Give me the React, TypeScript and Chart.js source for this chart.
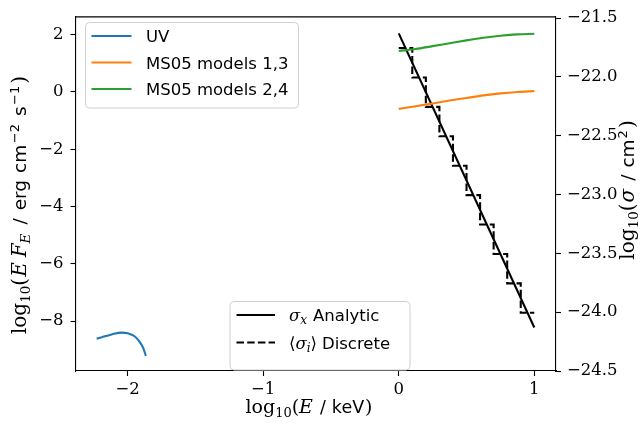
import React, { useEffect, useRef } from 'react';
import { Chart, registerables } from 'chart.js';

Chart.register(...registerables);

// ---------------- data ----------------
const uvLogE = [-2.228, -2.19, -2.15, -2.1, -2.044, -2.0, -1.959, -1.93, -1.91, -1.885, -1.865];
const uvFlux = [-8.61, -8.56, -8.51, -8.44, -8.4, -8.42, -8.5, -8.61, -8.73, -8.93, -9.21];

const msLogE = [0, 0.125, 0.25, 0.375, 0.5, 0.625, 0.75, 0.875, 1.0];
const ms13Flux = [-0.59, -0.5, -0.4, -0.3, -0.21, -0.12, -0.05, 0.0, 0.03];
const ms24Flux = [1.43, 1.5, 1.6, 1.7, 1.8, 1.89, 1.96, 2.01, 2.03];

const sigmaLogE = [0, 1];
const sigmaAnalytic = [-21.63, -24.13];

const binEdges = [0, 0.1, 0.2, 0.3, 0.4, 0.5, 0.6, 0.7, 0.8, 0.9, 1.0];
const sigmaDiscrete = [-21.755, -22.005, -22.255, -22.505, -22.755, -23.005, -23.255, -23.505, -23.755, -24.005, -24.005];

const xTicks = [-2, -1, 0, 1];
const yLeftTicks = [-8, -6, -4, -2, 0, 2];
const yRightTicks = [-24.5, -24.0, -23.5, -23.0, -22.5, -22.0, -21.5];

const seriesLabels = ['UV', 'MS05 models 1,3', 'MS05 models 2,4', 'σx Analytic', '⟨σi⟩ Discrete'];
const seriesColors = ['#1f77b4', '#ff7f0e', '#2ca02c', '#000000', '#000000'];

// ---------------- helpers ----------------
type Seg = { t: string; f: string; dy?: number; gap?: number };

const serif = (px: number, italic = false) => `${italic ? 'italic ' : ''}${px}px "DejaVu Serif"`;
const sans = (px: number) => `${px}px "DejaVu Sans"`;

function richWidth(ctx: CanvasRenderingContext2D, segs: Seg[]) {
  let w = 0;
  for (const s of segs) {
    ctx.font = s.f;
    w += (s.gap || 0) + ctx.measureText(s.t).width;
  }
  return w;
}

function drawRich(
  ctx: CanvasRenderingContext2D,
  segs: Seg[],
  x: number,
  y: number,
  align: 'left' | 'center',
  rot = 0,
  color = '#000'
) {
  ctx.save();
  ctx.translate(x, y);
  ctx.rotate(rot);
  ctx.textBaseline = 'alphabetic';
  ctx.textAlign = 'left';
  ctx.fillStyle = color;
  let cx = align === 'center' ? -richWidth(ctx, segs) / 2 : 0;
  for (const s of segs) {
    cx += s.gap || 0;
    ctx.font = s.f;
    ctx.fillText(s.t, cx, s.dy || 0);
    cx += ctx.measureText(s.t).width;
  }
  ctx.restore();
}

function roundRect(ctx: CanvasRenderingContext2D, x: number, y: number, w: number, h: number, r: number) {
  ctx.beginPath();
  ctx.moveTo(x + r, y);
  ctx.lineTo(x + w - r, y);
  ctx.quadraticCurveTo(x + w, y, x + w, y + r);
  ctx.lineTo(x + w, y + h - r);
  ctx.quadraticCurveTo(x + w, y + h, x + w - r, y + h);
  ctx.lineTo(x + r, y + h);
  ctx.quadraticCurveTo(x, y + h, x, y + h - r);
  ctx.lineTo(x, y + r);
  ctx.quadraticCurveTo(x, y, x + r, y);
  ctx.closePath();
}

const minus = (v: number, digits = 0) => {
  const s = Math.abs(v).toFixed(digits);
  return v < 0 ? '\u2212' + s : s;
};

const xTitle: Seg[] = [
  { t: 'log', f: serif(19) },
  { t: '10', f: serif(13), dy: 4 },
  { t: '(', f: serif(19) },
  { t: 'E', f: serif(19, true) },
  { t: '/', f: sans(17.5), gap: 7 },
  { t: 'keV', f: sans(17.5), gap: 6 },
  { t: ')', f: serif(19), gap: 1 },
];

const yTitle: Seg[] = [
  { t: 'log', f: serif(20) },
  { t: '10', f: serif(13.5), dy: 4 },
  { t: '(', f: serif(20) },
  { t: 'E', f: serif(20, true), gap: 1 },
  { t: 'F', f: serif(20, true), gap: 5 },
  { t: 'E', f: serif(13.5, true), dy: 4 },
  { t: '/', f: sans(18.5), gap: 9 },
  { t: 'erg', f: sans(18.5), gap: 8 },
  { t: 'cm', f: sans(18.5), gap: 7 },
  { t: '\u22122', f: sans(13), dy: -7.5, gap: 1.5 },
  { t: 's', f: sans(18.5), gap: 8 },
  { t: '\u22121', f: sans(13), dy: -7.5, gap: 1.5 },
  { t: ')', f: serif(20), gap: 2 },
];

const y2Title: Seg[] = [
  { t: 'log', f: serif(20) },
  { t: '10', f: serif(13.5), dy: 4 },
  { t: '(', f: serif(20) },
  { t: 'σ', f: serif(20, true), gap: 1 },
  { t: '/', f: sans(18.5), gap: 8 },
  { t: 'cm', f: sans(18.5), gap: 7 },
  { t: '2', f: sans(13), dy: -7.5, gap: 1 },
  { t: ')', f: serif(20), gap: 2 },
];

const legend2Text: Seg[][] = [
  [
    { t: 'σ', f: serif(16.5, true) },
    { t: 'x', f: serif(12, true), dy: 3 },
    { t: 'Analytic', f: sans(16.5), gap: 6 },
  ],
  [
    { t: '⟨', f: serif(16.5) },
    { t: 'σ', f: serif(16.5, true) },
    { t: 'i', f: serif(12, true), dy: 3 },
    { t: '⟩', f: serif(16.5) },
    { t: 'Discrete', f: sans(16.5), gap: 5 },
  ],
];

const overlayPlugin = {
  id: 'overlay',
  afterDatasetsDraw(chart: any) {
    const ctx: CanvasRenderingContext2D = chart.ctx;
    const ca = chart.chartArea;
    // top spine
    ctx.save();
    ctx.strokeStyle = '#000';
    ctx.lineWidth = 1.1;
    ctx.beginPath();
    ctx.moveTo(ca.left, ca.top);
    ctx.lineTo(ca.right, ca.top);
    ctx.stroke();
    ctx.restore();

    const ds = chart.data.datasets;

    // legend 1 (upper left)
    ctx.save();
    roundRect(ctx, 85.5, 22.5, 213, 85.5, 4);
    ctx.fillStyle = 'rgba(255,255,255,0.8)';
    ctx.fill();
    ctx.strokeStyle = '#d0d0d0';
    ctx.lineWidth = 1;
    ctx.stroke();
    const ys1 = [36, 62.5, 89];
    for (let i = 0; i < 3; i++) {
      ctx.strokeStyle = ds[i].borderColor;
      ctx.lineWidth = 2.1;
      ctx.setLineDash([]);
      ctx.beginPath();
      ctx.moveTo(91.5, ys1[i]);
      ctx.lineTo(131.5, ys1[i]);
      ctx.stroke();
      drawRich(ctx, [{ t: ds[i].label, f: sans(16.5) }], 146, ys1[i] + 6, 'left');
    }
    ctx.restore();

    // legend 2 (lower centre)
    ctx.save();
    roundRect(ctx, 230, 301.5, 180, 68.5, 4);
    ctx.fillStyle = 'rgba(255,255,255,0.8)';
    ctx.fill();
    ctx.strokeStyle = '#d0d0d0';
    ctx.lineWidth = 1;
    ctx.stroke();
    const ys2 = [315, 342.5];
    for (let i = 0; i < 2; i++) {
      const d = ds[3 + i];
      ctx.strokeStyle = d.borderColor;
      ctx.lineWidth = 2.1;
      ctx.setLineDash(d.borderDash || []);
      ctx.beginPath();
      ctx.moveTo(236.5, ys2[i]);
      ctx.lineTo(275, ys2[i]);
      ctx.stroke();
      ctx.setLineDash([]);
      drawRich(ctx, legend2Text[i], 289, ys2[i] + 6, 'left');
    }
    ctx.restore();

    // axis titles
    drawRich(ctx, xTitle, 309, 413, 'center');
    drawRich(ctx, yTitle, 26, 205, 'center', -Math.PI / 2);
    drawRich(ctx, y2Title, 634, 190, 'center', -Math.PI / 2);
  },
};

const tickFont = { family: '"DejaVu Serif"', size: 16.5 };
const gridOpts = {
  display: true,
  drawOnChartArea: false,
  drawTicks: true,
  tickLength: 5,
  tickWidth: 1.1,
  tickColor: '#000',
};
const borderOpts = { display: true, color: '#000', width: 1.1 };

export default function App() {
  const ref = useRef<HTMLCanvasElement | null>(null);

  useEffect(() => {
    document.body.style.margin = '0';
    const canvas = ref.current;
    if (!canvas) return;
    const pts = (xs: number[], ys: number[]) => xs.map((x, i) => ({ x, y: ys[i] }));
    const chart = new Chart(canvas, {
      type: 'line',
      data: {
        datasets: [
          {
            label: seriesLabels[0],
            data: pts(uvLogE, uvFlux),
            borderColor: seriesColors[0],
            borderWidth: 2.1,
            pointRadius: 0,
            tension: 0.4,
            cubicInterpolationMode: 'monotone',
            yAxisID: 'y',
          },
          {
            label: seriesLabels[1],
            data: pts(msLogE, ms13Flux),
            borderColor: seriesColors[1],
            borderWidth: 2.1,
            pointRadius: 0,
            cubicInterpolationMode: 'monotone',
            yAxisID: 'y',
          },
          {
            label: seriesLabels[2],
            data: pts(msLogE, ms24Flux),
            borderColor: seriesColors[2],
            borderWidth: 2.1,
            pointRadius: 0,
            cubicInterpolationMode: 'monotone',
            yAxisID: 'y',
          },
          {
            label: seriesLabels[3],
            data: pts(sigmaLogE, sigmaAnalytic),
            borderColor: seriesColors[3],
            borderWidth: 2.1,
            pointRadius: 0,
            yAxisID: 'y2',
          },
          {
            label: seriesLabels[4],
            data: pts(binEdges, sigmaDiscrete),
            borderColor: seriesColors[4],
            borderWidth: 2.1,
            borderDash: [7.5, 3.2],
            stepped: true,
            pointRadius: 0,
            yAxisID: 'y2',
          },
        ],
      } as any,
      options: {
        animation: false,
        responsive: false,
        maintainAspectRatio: false,
        layout: { padding: { top: 12, left: 0, right: 0, bottom: 0 } },
        plugins: { legend: { display: false }, tooltip: { enabled: false } },
        scales: {
          x: {
            type: 'linear',
            position: 'bottom',
            min: -2.384,
            max: 1.16,
            afterBuildTicks: (s: any) => {
              s.ticks = xTicks.map((v) => ({ value: v }));
            },
            afterFit: (s: any) => {
              s.height = 56;
            },
            grid: gridOpts,
            border: borderOpts,
            ticks: { font: tickFont, color: '#000', padding: 4, maxRotation: 0, callback: (v: any) => minus(Number(v)) },
          },
          y: {
            type: 'linear',
            position: 'left',
            min: -9.74,
            max: 2.62,
            afterBuildTicks: (s: any) => {
              s.ticks = yLeftTicks.map((v) => ({ value: v }));
            },
            afterFit: (s: any) => {
              s.width = 75.5;
            },
            grid: gridOpts,
            border: borderOpts,
            ticks: { font: tickFont, color: '#000', padding: 7, callback: (v: any) => minus(Number(v)) },
          },
          y2: {
            type: 'linear',
            position: 'right',
            min: -24.5,
            max: -21.49,
            afterBuildTicks: (s: any) => {
              s.ticks = yRightTicks.map((v) => ({ value: v }));
            },
            afterFit: (s: any) => {
              s.width = 85;
            },
            grid: gridOpts,
            border: borderOpts,
            ticks: { font: tickFont, color: '#000', padding: 6, callback: (v: any) => minus(Number(v), 1) },
          },
        },
      } as any,
      plugins: [overlayPlugin],
    });
    return () => chart.destroy();
  }, []);

  return (
    <div style={{ width: 641, height: 427 }}>
      <canvas ref={ref} width={641} height={427} style={{ width: 641, height: 427, display: 'block' }} />
    </div>
  );
}
